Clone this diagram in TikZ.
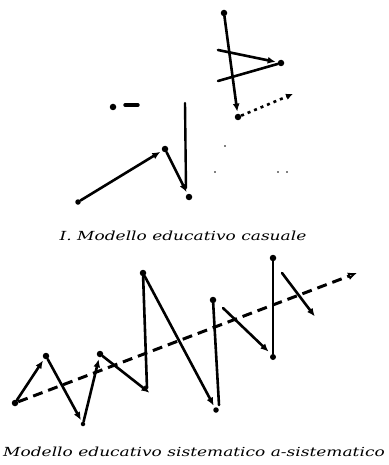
\documentclass[tikz,border=0pt]{standalone}
\usepackage{fontspec}
\setmainfont{DejaVu Serif}
\newfontfamily\capfont[FakeStretch=1.36]{DejaVu Serif}
\usetikzlibrary{arrows.meta}
\begin{document}
\begin{tikzpicture}[x=1pt,y=-1pt,
  stroke/.style={line width=2.6pt, line cap=round},
  arr/.style={stroke, -{Latex[length=8pt,width=7pt]}, shorten >=2pt},
  dotmark/.style={circle, fill, inner sep=0pt, minimum size=6.5pt},
  speck/.style={circle, fill, inner sep=0pt, minimum size=1.6pt},
  captext/.style={font=\capfont\itshape\fontsize{12.5}{14}\selectfont}]
\useasboundingbox[fill=white] (0,0) rectangle (388,465);
% ---- top: casual model ----
\node[dotmark] (a1) at (224,13) {};
\node[dotmark] (a2) at (238,117) {};
\draw[arr] (a1) -- (a2);
\coordinate (b1) at (218,50);
\node[dotmark] (b2) at (281,63) {};
\coordinate (b3) at (218,81);
\draw[arr] (b1) -- (b2);
\draw[stroke] (b2) -- (b3);
\coordinate (c1) at (293,94);
\draw[stroke, dash pattern=on 3pt off 4pt, line cap=butt, -{Latex[length=7pt,width=6.5pt]}] (a2) -- (c1);
\node[dotmark] (d1) at (113,107) {};
\coordinate (d2) at (125,105);
\coordinate (d3) at (138,105);
\draw[stroke, line width=3.4pt] (d2) -- (d3);
\coordinate (e1) at (185,103);
\coordinate (e2) at (186,188);
\draw[stroke, line width=2.4pt] (e1) -- (e2);
\node[dotmark, minimum size=5.5pt] (f1) at (78,202) {};
\node[dotmark] (f2) at (165,149) {};
\node[dotmark] (f3) at (189,197) {};
\draw[arr] (f1) -- (f2);
\draw[arr] (f2) -- (f3);
\node[speck] (s1) at (225,146) {};
\node[speck] (s2) at (215,172) {};
\node[speck] (s3) at (278,172) {};
\node[speck] (s4) at (287,172) {};
\node[captext] (cap1) at (183,236) {I. Modello educativo casuale};
% ---- bottom: systematic / a-systematic model ----
\node[dotmark] (g0) at (15,403) {};
\node[dotmark] (g1) at (46,356) {};
\node[dotmark, minimum size=4.5pt] (g2) at (83,424) {};
\node[dotmark] (g3) at (100,354) {};
\coordinate (g4) at (151,394);
\coordinate (g4b) at (147,388);
\node[dotmark] (g5) at (143,273) {};
\node[dotmark, minimum size=5.5pt] (g6) at (216,410) {};
\coordinate (g6b) at (219,405);
\node[dotmark] (g7) at (213,300) {};
\coordinate (g8) at (223,308);
\node[dotmark, minimum size=6pt] (g9) at (273,357) {};
\coordinate (g9b) at (270,353);
\node[dotmark] (g10) at (273,258) {};
\coordinate (g11) at (282,273);
\coordinate (g12) at (316,318);
\coordinate (h) at (357,273);
\draw[stroke, line width=3pt, line cap=butt, dash pattern=on 10pt off 6pt, -{Latex[open,length=9pt,width=8pt,line width=1.8pt]}] (g0) -- (h);
\draw[arr] (g0) -- (g1);
\draw[arr] (g1) -- (g2);
\draw[arr] (g2) -- (g3);
\draw[arr] (g3) -- (g4);
\draw[stroke] (g4b) -- (g5);
\draw[arr] (g5) -- (g6);
\draw[stroke] (g6b) -- (g7);
\draw[arr] (g8) -- (g9b);
\draw[stroke] (g9) -- (g10);
\draw[arr] (g11) -- (g12);
\node[captext] (cap2) at (194,452) {Modello educativo sistematico a-sistematico};
\end{tikzpicture}
\end{document}
